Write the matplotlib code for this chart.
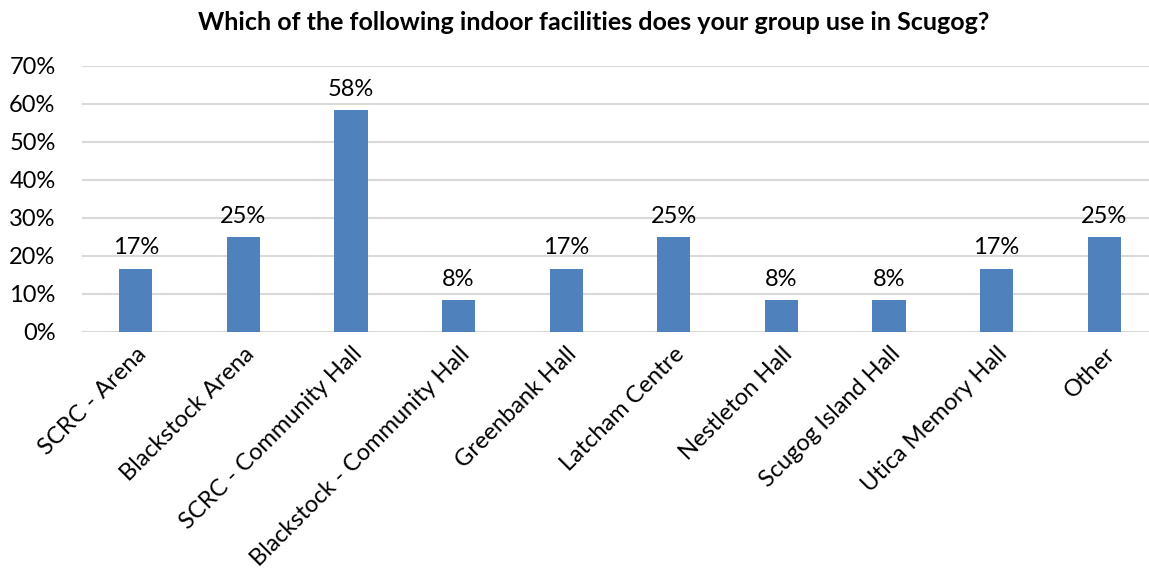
import matplotlib
matplotlib.use("Agg")
import matplotlib.pyplot as plt
import numpy as np

plt.rcParams['font.family'] = ['Lato', 'DejaVu Sans']

facilities = ["SCRC - Arena", "Blackstock Arena", "SCRC - Community Hall",
              "Blackstock - Community Hall", "Greenbank Hall", "Latcham Centre",
              "Nestleton Hall", "Scugog Island Hall", "Utica Memory Hall", "Other"]
share = [0.167, 0.25, 0.583, 0.083, 0.167, 0.25, 0.083, 0.083, 0.167, 0.25]
yticks = [0, 0.1, 0.2, 0.3, 0.4, 0.5, 0.6, 0.7]

W, H = 1149, 583
fig = plt.figure(figsize=(W / 100, H / 100), dpi=100)
ax = fig.add_axes([82 / W, 1 - 332 / H, 1076 / W, 266 / H])

x = np.arange(len(facilities))
ax.bar(x, share, width=0.31, color='#4f81bd', zorder=3)
for xi, v in zip(x, share):
    ax.text(xi, v + 0.027, f"{v:.0%}", ha='center', va='bottom', fontsize=17, color='black')

ax.set_xlim(-0.5, len(facilities) - 0.5)
ax.set_ylim(0, 0.7)
ax.set_yticks(yticks)
ax.set_yticklabels([f"{t:.0%}" for t in yticks], fontsize=17)
ax.yaxis.grid(True, color='#d9d9d9', linewidth=1.5, zorder=0)
ax.set_xticks(x)
ax.set_xticklabels(facilities, rotation=45, ha='right', rotation_mode='anchor', fontsize=17)
ax.tick_params(axis='both', length=0)
ax.tick_params(axis='x', pad=8)
ax.tick_params(axis='y', pad=19)
for s in ax.spines.values():
    s.set_visible(False)
ax.axhline(0, color='#d9d9d9', linewidth=1.5, zorder=1)

fig.text(0.517, 1 - 22 / H, "Which of the following indoor facilities does your group use in Scugog?",
         ha='center', va='center', fontsize=18, fontweight='bold')

fig.savefig("out.png", dpi=100)
